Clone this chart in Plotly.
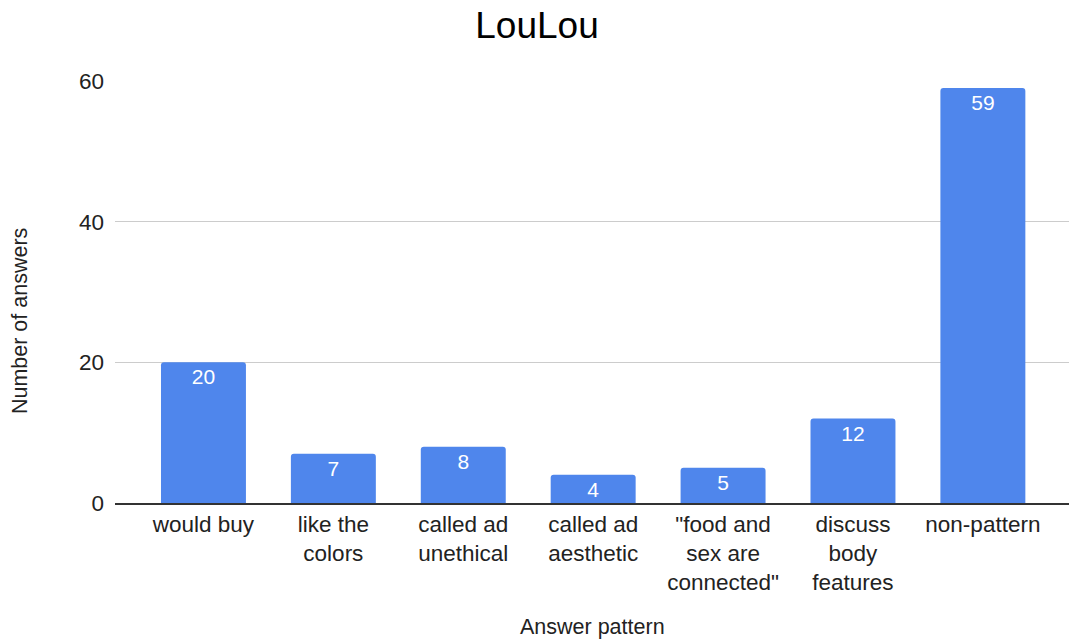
import plotly.graph_objects as go

categories = ["would buy", "like the<br>colors", "called ad<br>unethical", "called ad<br>aesthetic",
              "\"food and<br>sex are<br>connected\"", "discuss<br>body<br>features", "non-pattern"]
values = [20, 7, 8, 4, 5, 12, 59]
y_ticks = [0, 20, 40, 60]

FONT = "Liberation Sans, Arial, Helvetica, sans-serif"

fig = go.Figure(go.Bar(
    x=list(range(len(categories))),
    y=values,
    marker=dict(color="#4F86EC", line=dict(width=0)),
    text=[str(v) for v in values],
    textposition="inside",
    insidetextanchor="end",
    textangle=0,
    constraintext="none",
    insidetextfont=dict(color="white", size=21, family=FONT),
    hoverinfo="skip",
))

fig.update_layout(
    width=1074, height=644,
    margin=dict(l=115, r=5, t=81, b=141),
    paper_bgcolor="white", plot_bgcolor="white",
    bargap=0.346,
    barcornerradius=3,
    showlegend=False,
    font=dict(family=FONT, color="#222", size=21),
    title=dict(text="LouLou", x=0.5, xanchor="center", y=0.961, yanchor="middle",
               font=dict(size=37, family=FONT, color="#000")),
    xaxis=dict(
        tickmode="array",
        tickvals=list(range(len(categories))),
        ticktext=categories,
        range=[-0.681, 6.663],
        showgrid=False, zeroline=False,
        showline=True, linecolor="#333", linewidth=1.5,
        ticks="", tickfont=dict(size=22.5, color="#222", family=FONT),
        tickangle=0,
        fixedrange=True,
    ),
    yaxis=dict(
        range=[0, 60],
        tickvals=y_ticks,
        showgrid=True, gridcolor="#cccccc", gridwidth=1,
        zeroline=False, showline=False,
        ticks="", ticklabelstandoff=10,
        tickfont=dict(size=22.5, color="#222", family=FONT),
        fixedrange=True,
    ),
    annotations=[
        dict(text="Number of answers", textangle=-90, xref="paper", yref="paper",
             x=-0.0996, y=0.431, xanchor="center", yanchor="middle", showarrow=False,
             font=dict(size=21.5, family=FONT, color="#222")),
        dict(text="Answer pattern", xref="paper", yref="paper",
             x=0.5, y=-0.294, xanchor="center", yanchor="middle", showarrow=False,
             font=dict(size=21.5, family=FONT, color="#222")),
    ],
)

fig.write_html("out.html", config={"displayModeBar": False},
               post_script="document.body.style.margin='0px';")
